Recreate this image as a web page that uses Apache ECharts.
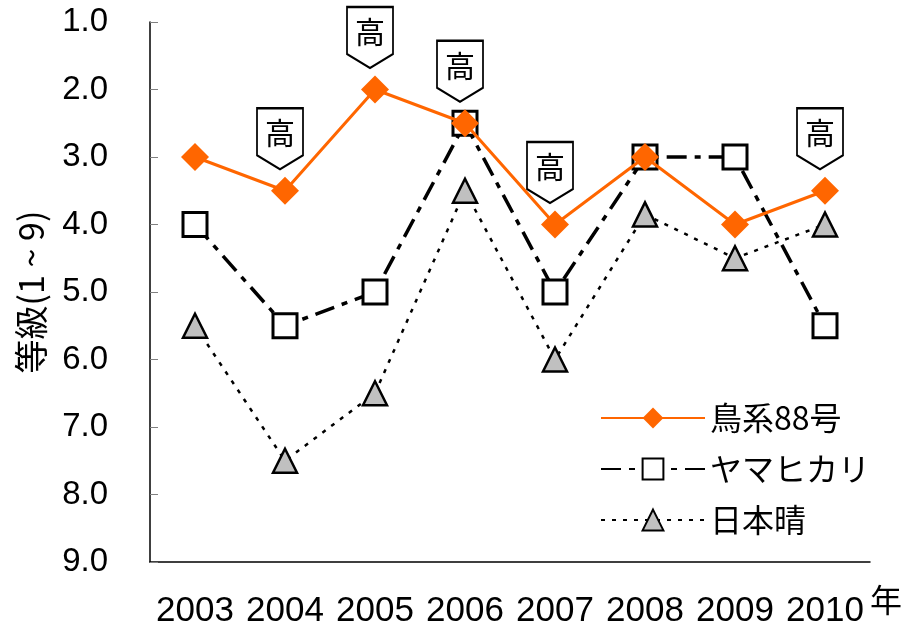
<!DOCTYPE html>
<html>
<head>
<meta charset="utf-8">
<script src="https://cdn.jsdelivr.net/npm/echarts@6/dist/echarts.min.js"></script>
<style>
html,body{margin:0;padding:0;background:#fff;}
#chart{width:906px;height:632px;}
</style>
</head>
<body>
<div id="chart"></div>
<script>
// ---- data ----
const years = ['2003','2004','2005','2006','2007','2008','2009','2010'];
const seriesNames = ['鳥系88号','ヤマヒカリ','日本晴'];
const toriKei88 = [3.0, 3.5, 2.0, 2.5, 4.0, 3.0, 4.0, 3.5];
const yamahikari = [4.0, 5.5, 5.0, 2.5, 5.0, 3.0, 3.0, 5.5];
const nipponbare = [5.5, 7.5, 6.5, 3.5, 6.0, 3.85, 4.5, 4.0];
const highYears = ['2004','2005','2006','2007','2010'];
const highLabel = '高';
const yTicks = [1,2,3,4,5,6,7,8,9];
const yAxisTitle = '等級(1 ~ 9)';
const xAxisUnit = '年';

// ---- chart ----
const jpFont = "'Noto Sans CJK JP', 'Noto Sans', sans-serif";
const numFont = "'Liberation Sans', Arial, sans-serif";
const chart = echarts.init(document.getElementById('chart'), null, {renderer:'canvas'});

const calloutPath = 'path://M0,0 L46,0 L46,47 L23,61 L0,47 Z';

const option = {
  animation: false,
  backgroundColor: '#ffffff',
  grid: {left:150, top:22, width:720, height:540, containLabel:false, outerBoundsMode:'none'},
  legend: {
    left: 595, top: 397, orient: 'vertical',
    itemWidth: 104, itemHeight: 26, itemGap: 19,
    textStyle: {fontFamily: jpFont, fontSize: 32, color:'#000'},
    data: seriesNames
  },
  xAxis: {
    type: 'category', data: years, boundaryGap: true,
    axisLine: {lineStyle:{color:'#000', width:1.5}},
    axisTick: {inside:true, length:10, lineStyle:{color:'#808080', width:1}},
    axisLabel: {fontFamily: numFont, fontSize: 35, color:'#000', margin: 32, interval: 0},
    name: xAxisUnit, nameLocation:'end', nameGap: 0,
    nameTextStyle: {fontFamily: jpFont, fontSize: 32, color:'#000', align:'left', verticalAlign:'top', padding:[22,0,0,0]},
    splitLine: {show:false}
  },
  yAxis: {
    type: 'value', inverse: true, min: yTicks[0], max: yTicks[yTicks.length-1], interval: 1,
    axisLine: {show:true, lineStyle:{color:'#000', width:1.5}},
    axisTick: {show:true, inside:true, length:8, lineStyle:{color:'#808080', width:1}},
    axisLabel: {fontFamily: numFont, fontSize: 33, color:'#000', margin: 42, formatter: v => v.toFixed(1)},
    splitLine: {show:false},
    name: yAxisTitle, nameLocation:'middle', nameRotate: 90, nameGap: 102,
    nameTextStyle: {fontFamily: jpFont, fontSize: 34, color:'#000'}
  },
  series: [
    {
      name: seriesNames[0], type:'line', data: toriKei88, z: 5,
      symbol:'diamond', symbolSize: 28,
      lineStyle:{color:'#FF6600', width:3},
      itemStyle:{color:'#FF6600', borderWidth:0},
      markPoint: {
        symbol: calloutPath, symbolSize:[46,61], symbolOffset:[-5,-52],
        itemStyle:{color:'#fff', borderColor:'#000', borderWidth:2},
        label:{show:true, formatter: highLabel, color:'#000', fontSize:30, fontFamily: jpFont, offset:[0,-6]},
        data: highYears.map(y => ({coord:[y, toriKei88[years.indexOf(y)]]}))
      }
    },
    {
      name: seriesNames[1], type:'line', data: yamahikari, z: 4,
      symbol:'rect', symbolSize: 24,
      lineStyle:{color:'#000', width:3.5, type:[20,8,6,8]},
      itemStyle:{color:'#fff', borderColor:'#000', borderWidth:3}
    },
    {
      name: seriesNames[2], type:'line', data: nipponbare, z: 3,
      symbol:'triangle', symbolSize: [24,24],
      lineStyle:{color:'#000', width:2.5, type:[4,7]},
      itemStyle:{color:'#C0C0C0', borderColor:'#000', borderWidth:2.5}
    }
  ]
};
chart.setOption(option);
</script>
</body>
</html>
